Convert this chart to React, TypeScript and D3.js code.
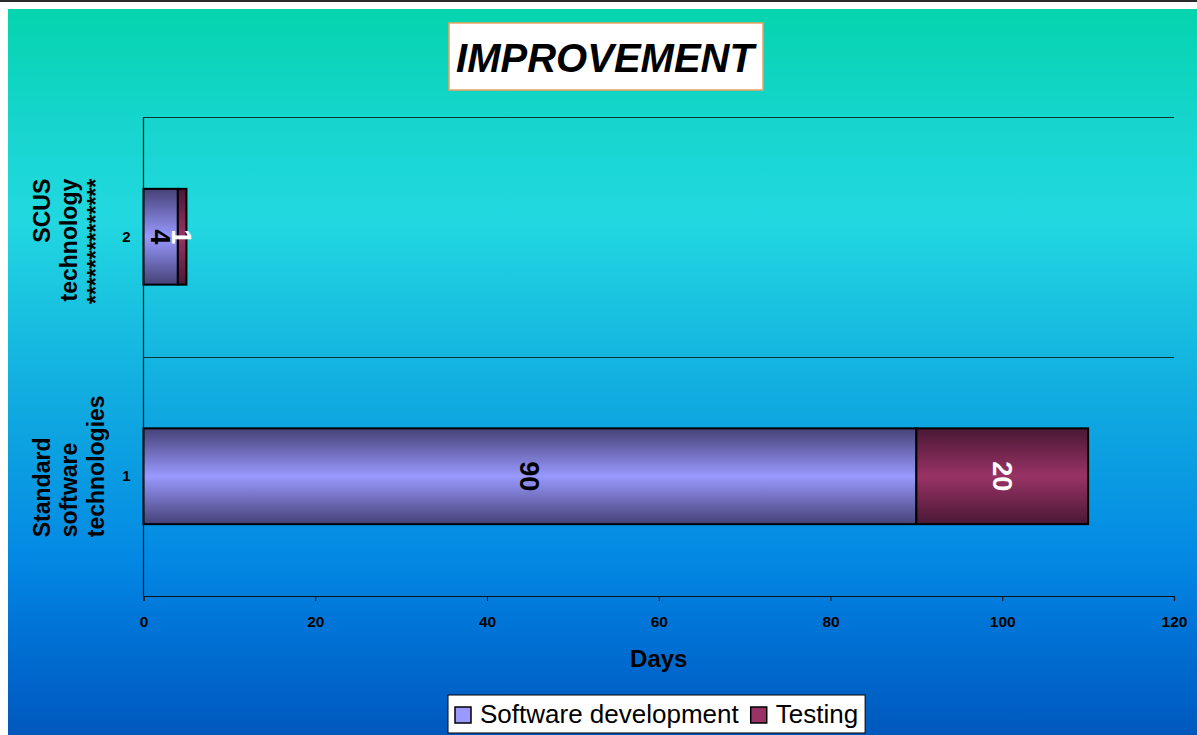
import React, { useEffect, useRef } from 'react';
import * as d3 from 'd3';

// chart values
const categories = ['1', '2'];
const categoryLabels = [
  ['Standard', 'software', 'technologies'],
  ['SCUS', 'technology', '**************'],
];
const seriesNames = ['Software development', 'Testing'];
const softwareDev = [90, 4];
const testing = [20, 1];
const xTicks = [0, 20, 40, 60, 80, 100, 120];

const FONT = '"Liberation Sans", Arial, sans-serif';

const App = () => {
  const svgRef = useRef<SVGSVGElement | null>(null);

  useEffect(() => {
    document.body.style.margin = '0';
    if (!svgRef.current) return;

    const W = 1197;
    const H = 735;
    const svg = d3.select(svgRef.current);
    svg.selectAll('*').remove();
    svg.attr('width', W).attr('height', H);

    const rows = categories.map((c, i) => ({
      cat: c,
      soft: softwareDev[i],
      test: testing[i],
    }));
    const keys = ['soft', 'test'];
    const stack = d3.stack<any>().keys(keys)(rows);

    const x = d3.scaleLinear().domain([0, 120]).range([143.5, 1174]);
    // category 1 sits at the bottom
    const y = d3.scaleBand().domain(['2', '1']).range([117, 596]).padding(0);
    const barH = y.bandwidth() * 0.4;

    const defs = svg.append('defs');
    const bg = defs.append('linearGradient').attr('id', 'bg')
      .attr('x1', 0).attr('y1', 0).attr('x2', 0).attr('y2', 1);
    [
      [0, '#05d4ae'], [0.15, '#15d5cc'], [0.29, '#22d8e0'], [0.54, '#10abe0'],
      [0.76, '#0388e4'], [0.87, '#0070d4'], [1, '#0058bd'],
    ].forEach(([o, c]) => bg.append('stop').attr('offset', o as number).attr('stop-color', c as string));

    const barColors = [
      { id: 'gSoft', edge: '#464176', mid: '#9999ff', solid: '#9999ff', label: '#000' },
      { id: 'gTest', edge: '#4a1834', mid: '#993366', solid: '#993366', label: '#fff' },
    ];
    barColors.forEach((b) => {
      const g = defs.append('linearGradient').attr('id', b.id)
        .attr('x1', 0).attr('y1', 0).attr('x2', 0).attr('y2', 1);
      g.append('stop').attr('offset', 0).attr('stop-color', b.edge);
      g.append('stop').attr('offset', 0.5).attr('stop-color', b.mid);
      g.append('stop').attr('offset', 1).attr('stop-color', b.edge);
    });

    // page background
    svg.append('rect').attr('width', W).attr('height', H).attr('fill', '#fff');
    svg.append('rect').attr('x', 8).attr('y', 9).attr('width', W - 8).attr('height', H - 9)
      .attr('fill', 'url(#bg)');
    svg.append('rect').attr('x', 0).attr('y', 0).attr('width', W).attr('height', 2).attr('fill', '#2b2b2b');

    // title
    svg.append('rect').attr('x', 449).attr('y', 23).attr('width', 314).attr('height', 67)
      .attr('fill', '#fff').attr('stroke', '#f0a060').attr('stroke-width', 1.5);
    svg.append('text').attr('x', 605).attr('y', 72).attr('text-anchor', 'middle')
      .attr('font-family', FONT).attr('font-weight', 'bold').attr('font-style', 'italic')
      .attr('font-size', 40).attr('fill', '#000').text('IMPROVEMENT');

    // gridlines at category boundaries
    svg.append('g').selectAll('line').data(y.domain()).enter().append('line')
      .attr('x1', x(0)).attr('x2', x(120))
      .attr('y1', (d) => Math.round(y(d)!) + 0.5).attr('y2', (d) => Math.round(y(d)!) + 0.5)
      .attr('stroke', '#0e3434').attr('stroke-width', 1.2);

    // bars
    svg.append('g').selectAll('g').data(stack).enter().append('g')
      .attr('fill', (d, i) => `url(#${barColors[i].id})`)
      .selectAll('rect').data((d) => d).enter().append('rect')
      .attr('x', (d) => x(d[0]))
      .attr('y', (d: any) => y(d.data.cat)! + (y.bandwidth() - barH) / 2)
      .attr('width', (d) => x(d[1]) - x(d[0]))
      .attr('height', barH)
      .attr('stroke', '#000').attr('stroke-width', 2);

    // bar value labels
    svg.append('g').selectAll('g').data(stack).enter().append('g')
      .attr('fill', (d, i) => barColors[i].label)
      .selectAll('text').data((d) => d).enter().append('text')
      .attr('transform', (d: any) =>
        `translate(${(x(d[0]) + x(d[1])) / 2},${y(d.data.cat)! + y.bandwidth() / 2}) rotate(90)`)
      .attr('text-anchor', 'middle').attr('dy', '0.36em')
      .attr('font-family', FONT).attr('font-weight', 'bold').attr('font-size', 27)
      .text((d) => String(d[1] - d[0]));

    // x axis
    const xAxis = d3.axisBottom(x).tickValues(xTicks).tickSize(5).tickSizeOuter(5).tickPadding(15);
    const xg = svg.append('g').attr('transform', 'translate(0,596)').call(xAxis);
    xg.select('.domain').attr('stroke', '#111').attr('stroke-width', 1.2);
    xg.selectAll('.tick line').attr('stroke', '#111');
    xg.selectAll('text').attr('font-family', FONT).attr('font-weight', 'bold')
      .attr('font-size', 15.5).attr('fill', '#000');

    // y axis
    svg.append('line').attr('x1', 143.5).attr('x2', 143.5).attr('y1', 117).attr('y2', 596)
      .attr('stroke', '#111').attr('stroke-width', 1.2);
    const yAxis = d3.axisLeft(y).tickSize(0).tickPadding(13);
    const yg = svg.append('g').attr('transform', 'translate(143.5,0)').call(yAxis);
    yg.select('.domain').remove();
    yg.selectAll('text').attr('font-family', FONT).attr('font-weight', 'bold')
      .attr('font-size', 15).attr('fill', '#000');

    // category names, rotated
    categories.forEach((c, i) => {
      const cy = y(c)! + y.bandwidth() / 2;
      // first one hangs from the bottom, second from the top
      const anchor = i === 0 ? 'start' : 'end';
      const ay = i === 0 ? cy + 61 : cy - 58;
      categoryLabels[i].forEach((line, j) => {
        svg.append('text')
          .attr('transform', `translate(${50 + j * 27},${ay}) rotate(-90)`)
          .attr('text-anchor', anchor)
          .attr('font-family', FONT).attr('font-weight', 'bold').attr('font-size', 23)
          .attr('fill', '#000').text(line);
      });
    });

    // axis title
    svg.append('text').attr('x', (x(0) + x(120)) / 2).attr('y', 667).attr('text-anchor', 'middle')
      .attr('font-family', FONT).attr('font-weight', 'bold').attr('font-size', 24)
      .attr('fill', '#000').text('Days');

    // legend
    const legend = svg.append('g');
    const box = legend.append('rect').attr('x', 448).attr('y', 695).attr('height', 38)
      .attr('fill', '#fff').attr('stroke', '#000').attr('stroke-width', 1);
    let lx = 455;
    seriesNames.forEach((name, i) => {
      legend.append('rect').attr('x', lx).attr('y', 707).attr('width', 16).attr('height', 16)
        .attr('fill', barColors[i].solid).attr('stroke', '#000').attr('stroke-width', 1.5);
      const t = legend.append('text').attr('x', lx + 25).attr('y', 723)
        .attr('font-family', FONT).attr('font-size', 26).attr('fill', '#000').text(name);
      const len = (t.node() as SVGTextElement).getComputedTextLength();
      lx = lx + 25 + len + 12;
    });
    box.attr('width', lx - 12 + 7 - 448);
  }, []);

  return <svg ref={svgRef} style={{ display: 'block' }}></svg>;
};

export default App;
